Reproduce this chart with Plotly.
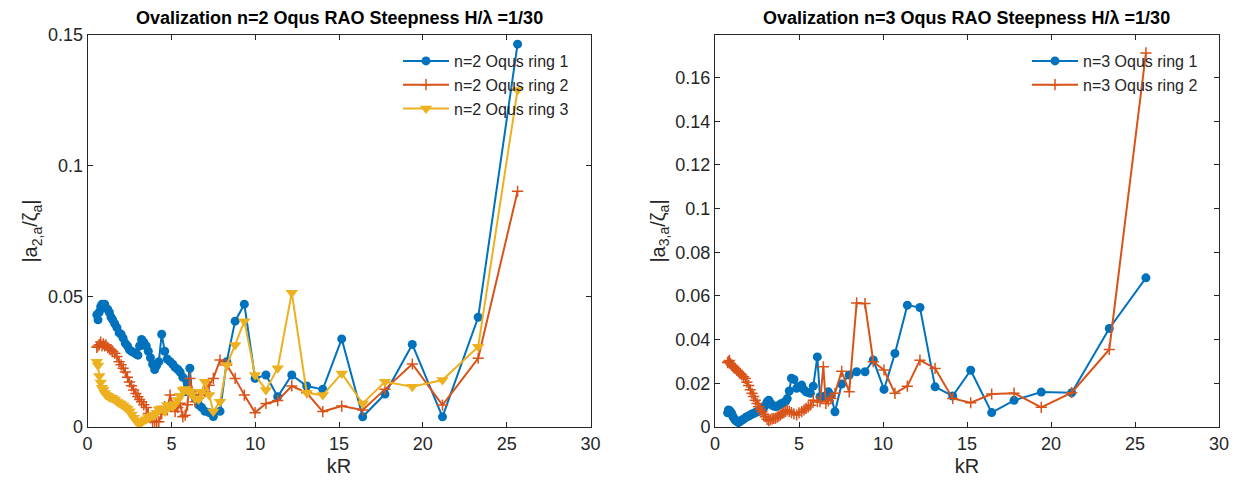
import plotly.graph_objects as go

# ---- n=2 ovalization, three rings ----
kr_n2 = [0.55, 0.62, 0.7, 0.78, 0.86, 0.94, 1.02, 1.1, 1.2, 1.3,
         1.4, 1.5, 1.62, 1.75, 1.88, 2.0, 2.12, 2.25, 2.38, 2.5,
         2.62, 2.75, 2.88, 3.0, 3.1, 3.22, 3.35, 3.5, 3.62, 3.75,
         3.88, 4.0, 4.12, 4.25, 4.42, 4.6, 4.75, 4.92, 5.08, 5.22,
         5.38, 5.52, 5.68, 5.82, 5.96, 6.1, 6.22, 6.42, 6.62, 6.8,
         7.0, 7.25, 7.5, 7.9, 8.3, 8.8, 9.35, 9.99, 10.64, 11.34,
         12.18, 13.07, 14.03, 15.16, 16.41, 17.74, 19.37, 21.17, 23.3, 25.65]

n2_ring1 = [0.043, 0.041, 0.044, 0.046, 0.047, 0.0465, 0.047, 0.0455, 0.045, 0.0438,
            0.042, 0.041, 0.0395, 0.038, 0.036, 0.0355, 0.034, 0.032, 0.031, 0.0295,
            0.029, 0.0285, 0.028, 0.0275, 0.031, 0.0335, 0.0325, 0.031, 0.029, 0.0265,
            0.024, 0.022, 0.0235, 0.025, 0.0355, 0.029, 0.026, 0.025, 0.024, 0.0228,
            0.022, 0.021, 0.019, 0.0135, 0.017, 0.0225, 0.013, 0.011, 0.0085, 0.0075,
            0.006, 0.0055, 0.004, 0.006, 0.025, 0.0405, 0.047, 0.0186, 0.0199, 0.0116,
            0.0199, 0.0157, 0.0144, 0.0337, 0.0039, 0.0126, 0.0316, 0.0039, 0.042, 0.1465]

n2_ring2 = [0.0305, 0.031, 0.0315, 0.0325, 0.031, 0.0318, 0.031, 0.0314, 0.0305, 0.0298,
            0.0295, 0.029, 0.0282, 0.027, 0.025, 0.0238, 0.0225, 0.021, 0.019, 0.0172,
            0.0158, 0.0142, 0.0128, 0.0116, 0.0105, 0.0097, 0.0085, 0.0075, 0.0052, 0.0035,
            0.002, 0.0022, 0.002, 0.002, 0.005, 0.0078, 0.0065, 0.0122, 0.008, 0.0059,
            0.0075, 0.0091, 0.0039, 0.0045, 0.0085, 0.0186, 0.0135, 0.0097, 0.011, 0.0122,
            0.0135, 0.016, 0.0186, 0.0256, 0.0237, 0.0186, 0.0122, 0.0055, 0.009, 0.0101,
            0.0157, 0.0131, 0.0059, 0.008, 0.0065, 0.0144, 0.0241, 0.0084, 0.0263, 0.0902]

n2_ring3 = [0.025, 0.0235, 0.0195, 0.017, 0.015, 0.0142, 0.013, 0.0122, 0.012, 0.0115,
            0.0112, 0.011, 0.0105, 0.0098, 0.0092, 0.0088, 0.0082, 0.0076, 0.007, 0.006,
            0.0048, 0.0035, 0.0024, 0.0016, 0.0012, 0.0018, 0.0025, 0.003, 0.0036, 0.004,
            0.0044, 0.0046, 0.0055, 0.0068, 0.0072, 0.0059, 0.0084, 0.0082, 0.0078, 0.0088,
            0.0103, 0.012, 0.0142, 0.0145, 0.014, 0.0135, 0.0125, 0.011, 0.0105, 0.0135,
            0.0173, 0.0122, 0.0059, 0.0097, 0.0237, 0.0314, 0.0405, 0.0199, 0.0142, 0.0225,
            0.0514, 0.0131, 0.0122, 0.0205, 0.009, 0.0173, 0.0154, 0.018, 0.0307, 0.129]

# ---- n=3 ovalization, two rings ----
kr_n3 = [0.75, 0.8, 0.86, 0.92, 0.99, 1.06, 1.13, 1.2, 1.3, 1.4,
         1.5, 1.6, 1.7, 1.8, 1.9, 2.0, 2.1, 2.2, 2.3, 2.4,
         2.5, 2.6, 2.7, 2.8, 2.9, 3.0, 3.1, 3.2, 3.3, 3.4,
         3.5, 3.6, 3.7, 3.8, 3.9, 4.0, 4.1, 4.2, 4.3, 4.42,
         4.55, 4.7, 4.86, 5.0, 5.16, 5.3, 5.42, 5.55, 5.68, 5.85,
         6.09, 6.25, 6.45, 6.6, 6.75, 6.9, 7.14, 7.54, 7.99, 8.43,
         8.93, 9.42, 10.06, 10.71, 11.45, 12.2, 13.1, 14.15, 15.22, 16.47,
         17.8, 19.42, 21.23, 23.47, 25.65]

n3_ring1 = [0.0065, 0.0078, 0.0075, 0.007, 0.0063, 0.0048, 0.004, 0.0032, 0.0025, 0.002,
            0.0026, 0.0032, 0.0036, 0.0042, 0.0047, 0.005, 0.0055, 0.0059, 0.0062, 0.0066,
            0.007, 0.0072, 0.0074, 0.0075, 0.0088, 0.01, 0.0115, 0.0123, 0.011, 0.01,
            0.0096, 0.0093, 0.0095, 0.01, 0.0105, 0.0108, 0.0112, 0.0116, 0.013, 0.0165,
            0.0223, 0.0218, 0.0177, 0.0185, 0.0192, 0.017, 0.0161, 0.0158, 0.0154, 0.0187,
            0.0321, 0.0139, 0.014, 0.0135, 0.0161, 0.0145, 0.007, 0.0197, 0.0238, 0.0253,
            0.0253, 0.0307, 0.0172, 0.0337, 0.0558, 0.0547, 0.0184, 0.0142, 0.026, 0.0066,
            0.0122, 0.016, 0.0157, 0.0451, 0.0683]

n3_ring2 = [0.0295, 0.03, 0.0305, 0.029, 0.0283, 0.0278, 0.0272, 0.0268, 0.026, 0.0253,
            0.0245, 0.0238, 0.023, 0.0222, 0.0205, 0.019, 0.017, 0.0154, 0.014, 0.0123,
            0.0108, 0.0093, 0.008, 0.007, 0.0058, 0.0047, 0.0035, 0.0029, 0.0034, 0.0037,
            0.0039, 0.004, 0.0045, 0.005, 0.0055, 0.0062, 0.0066, 0.0072, 0.0078, 0.0072,
            0.0066, 0.006, 0.0055, 0.0065, 0.007, 0.0078, 0.0085, 0.0092, 0.01, 0.0123,
            0.0116, 0.0116, 0.0276, 0.0108, 0.012, 0.013, 0.0154, 0.0255, 0.0161, 0.0568,
            0.0565, 0.0299, 0.0261, 0.0154, 0.0187, 0.0306, 0.0268, 0.0131, 0.0111, 0.0151,
            0.0155, 0.009, 0.0157, 0.0355, 0.1713]

BLUE = "#0072BD"
RED = "#D95319"
YELLOW = "#EDB120"
AXC = "#262626"
FONT = "Liberation Sans, Arial, Helvetica, sans-serif"

fig = go.Figure()


def add_series(x, y, name, color, symbol, size, xa, ya, legend, mline=0):
    fig.add_trace(go.Scatter(
        x=x, y=y, name=name, mode="lines+markers",
        line=dict(color=color, width=2),
        marker=dict(color=color, symbol=symbol, size=size,
                    line=dict(color=color, width=mline)),
        xaxis=xa, yaxis=ya, legend=legend))


add_series(kr_n2, n2_ring1, "n=2 Oqus ring 1", BLUE, "circle", 9, "x", "y", "legend")
add_series(kr_n2, n2_ring2, "n=2 Oqus ring 2", RED, "cross-thin", 8, "x", "y", "legend", 1.5)
add_series(kr_n2, n2_ring3, "n=2 Oqus ring 3", YELLOW, "triangle-down", 11, "x", "y", "legend")
add_series(kr_n3, n3_ring1, "n=3 Oqus ring 1", BLUE, "circle", 9, "x2", "y2", "legend2")
add_series(kr_n3, n3_ring2, "n=3 Oqus ring 2", RED, "cross-thin", 8, "x2", "y2", "legend2", 1.5)

W, H = 1244, 488
y_dom = [1 - 427 / H, 1 - 35 / H]

common_axis = dict(
    showline=True, linecolor=AXC, linewidth=1, mirror="ticks", automargin=False,
    ticks="inside", ticklen=5, tickcolor=AXC, showgrid=False, zeroline=False,
    tickfont=dict(family=FONT, size=18, color=AXC),
)
x_title_font = dict(family=FONT, size=20, color=AXC)
y_title_font = dict(family=FONT, size=20, color=AXC)

fig.update_layout(
    width=W, height=H,
    margin=dict(l=0, r=0, t=0, b=0),
    paper_bgcolor="white", plot_bgcolor="white",
    font=dict(family=FONT, color=AXC),
    xaxis=dict(domain=[87.6 / W, 590.5 / W], range=[0, 30], tickvals=[0, 5, 10, 15, 20, 25, 30],
               title=dict(text="kR", standoff=6, font=x_title_font), anchor="y", **common_axis),
    yaxis=dict(domain=y_dom, range=[0, 0.15], tickvals=[0, 0.05, 0.1, 0.15],
               title=dict(text="|a<sub>2,a</sub>/ζ<sub>a</sub>|", standoff=4, font=y_title_font),
               anchor="x", **common_axis),
    xaxis2=dict(domain=[715 / W, 1219 / W], range=[0, 30], tickvals=[0, 5, 10, 15, 20, 25, 30],
                title=dict(text="kR", standoff=6, font=x_title_font), anchor="y2", **common_axis),
    yaxis2=dict(domain=y_dom, range=[0, 0.1795],
                tickvals=[0, 0.02, 0.04, 0.06, 0.08, 0.1, 0.12, 0.14, 0.16],
                title=dict(text="|a<sub>3,a</sub>/ζ<sub>a</sub>|", standoff=4, font=y_title_font),
                anchor="x2", **common_axis),
    legend=dict(x=398 / W, y=1 - 44 / H, xanchor="left", yanchor="top",
                bgcolor="rgba(255,255,255,0)", borderwidth=0,
                font=dict(family=FONT, size=16, color=AXC), itemwidth=46, tracegroupgap=0),
    legend2=dict(x=1027 / W, y=1 - 44 / H, xanchor="left", yanchor="top",
                 bgcolor="rgba(255,255,255,0)", borderwidth=0,
                 font=dict(family=FONT, size=16, color=AXC), itemwidth=46, tracegroupgap=0),
    annotations=[
        dict(text="<b>Ovalization n=2 Oqus RAO Steepness H/λ =1/30</b>", x=(87.6 + 590.5) / 2 / W,
             y=1 - 18 / H, xref="paper", yref="paper", showarrow=False,
             font=dict(family=FONT, size=18, color="black"), xanchor="center", yanchor="middle"),
        dict(text="<b>Ovalization n=3 Oqus RAO Steepness H/λ =1/30</b>", x=(715 + 1219) / 2 / W,
             y=1 - 18 / H, xref="paper", yref="paper", showarrow=False,
             font=dict(family=FONT, size=18, color="black"), xanchor="center", yanchor="middle"),
    ],
)

# page has no body margin so the figure fills the window exactly
fig.write_html(
    "out.html",
    post_script="document.body.style.margin='0';document.body.style.padding='0';"
                "document.documentElement.style.overflow='hidden';",
)
